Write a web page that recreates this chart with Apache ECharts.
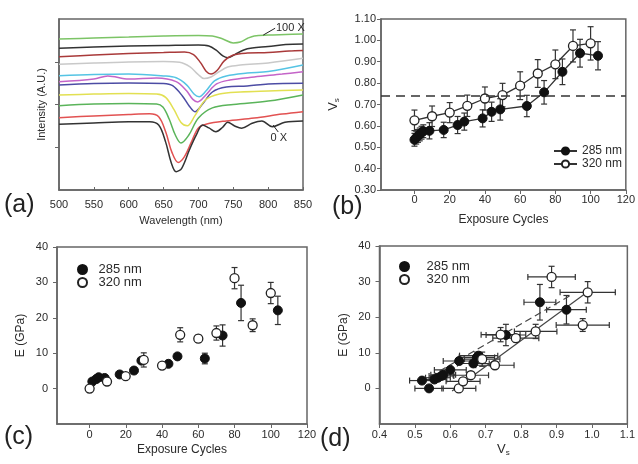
<!DOCTYPE html>
<html><head><meta charset="utf-8">
<script src="https://cdn.jsdelivr.net/npm/echarts@6/dist/echarts.min.js"></script>
<style>html,body{margin:0;padding:0;background:#fff}#c{width:638px;height:464px}</style>
</head><body><div id="c"></div>
<script>
// ---------- Panel (a): spectra, [wavelength (nm), intensity (a.u.)] ----------
const spec100X = [[500,88.3],[550,88.9],[600,89.5],[650,90.1],[700,90.4],[720,90.1],[735,88.3],[750,86.0],[760,86.5],[770,88.6],[780,90.1],[800,90.6],[825,90.9],[850,91.2]];
const spec90X  = [[500,82.9],[550,83.6],[600,84.2],[650,84.5],[700,84.8],[715,84.2],[725,81.9],[735,78.4],[742,77.4],[752,79.2],[765,81.9],[777,83.0],[800,83.9],[825,85.1],[850,85.4]];
const spec80X  = [[500,77.9],[550,78.9],[600,79.8],[650,80.4],[680,80.7],[693,79.2],[703,74.5],[711,69.5],[718,67.8],[727,70.0],[737,75.5],[750,78.9],[770,80.1],[800,80.4],[830,81.3],[850,81.6]];
const spec70X  = [[500,73.5],[550,74.3],[600,74.9],[650,75.1],[673,74.7],[688,72.0],[699,67.8],[708,65.2],[718,66.1],[729,69.0],[742,71.9],[760,73.1],[800,74.3],[850,77.0]];
const spec60X  = [[500,66.8],[550,67.5],[600,67.8],[650,66.7],[668,65.6],[683,61.5],[694,56.0],[701,54.6],[711,58.0],[723,63.8],[740,66.7],[770,68.4],[800,69.3],[850,73.1]];
const spec50X  = [[500,63.3],[550,64.9],[570,66.7],[600,64.9],[640,65.5],[668,63.4],[683,58.0],[692,53.0],[699,51.5],[710,55.3],[726,62.0],[745,64.3],[780,66.1],[820,67.8],[850,69.2]];
const spec40X  = [[500,61.4],[550,62.3],[600,62.6],[650,62.3],[663,61.0],[677,55.0],[687,49.0],[695,45.8],[705,49.8],[720,57.3],[740,60.2],[770,60.8],[800,62.0],[850,62.4]];
const spec30X  = [[500,55.6],[550,56.1],[600,56.4],[640,56.1],[653,54.2],[665,47.0],[675,39.5],[684,37.6],[695,43.5],[710,52.6],[730,56.1],[760,57.3],[800,57.9],[850,58.5]];
const spec20X  = [[500,49.3],[550,50.3],[600,50.6],[640,50.3],[649,48.5],[658,41.5],[667,32.0],[675,27.5],[686,32.0],[700,42.1],[720,48.0],[750,50.0],[800,52.0],[850,55.6]];
const spec10X  = [[500,42.3],[550,43.3],[600,44.2],[630,44.6],[643,42.8],[653,34.0],[662,22.0],[671,16.1],[680,19.5],[690,28.1],[700,36.3],[712,38.6],[740,40.4],[780,42.1],[820,44.4],[850,45.8]];
const spec0X   = [[500,38.4],[550,39.2],[600,39.9],[630,39.9],[643,38.0],[653,28.0],[661,16.0],[668,10.7],[676,12.7],[687,23.4],[697,32.2],[706,38.0],[715,36.3],[725,34.1],[735,36.8],[742,39.6],[752,37.4],[762,36.1],[777,39.0],[791,40.4],[806,37.0],[824,39.6],[850,40.4]];
const specColors = ['#7cc466','#333333','#a93a3a','#c9c9c9','#55c4e4','#c464c8','#4c4ca4','#e2e052','#5ab45a','#e25252','#333333'];
const wavelengthTicks = [500,550,600,650,700,750,800,850];

// ---------- Panel (b): Vs vs exposure cycles ----------
const b285X = [0, 1, 2, 3, 4, 5, 8.5, 16.6, 24.5, 28.3, 38.7, 43.8, 48.7, 63.8, 73.6, 84, 94, 104.2];
const b285Y = [0.535, 0.545, 0.553, 0.560, 0.568, 0.575, 0.577, 0.581, 0.604, 0.620, 0.635, 0.666, 0.677, 0.693, 0.757, 0.853, 0.940, 0.928];
const b285Err = [0.03, 0.03, 0.03, 0.03, 0.03, 0.03, 0.038, 0.036, 0.04, 0.04, 0.04, 0.045, 0.05, 0.05, 0.055, 0.06, 0.065, 0.066];
const b320X = [0, 10, 20, 30, 40, 50, 60, 70, 80, 90, 100];
const b320Y = [0.626, 0.645, 0.662, 0.694, 0.728, 0.744, 0.788, 0.845, 0.888, 0.974, 0.986];
const b320Err = [0.048, 0.048, 0.047, 0.05, 0.054, 0.055, 0.065, 0.065, 0.067, 0.075, 0.078];
const vsThreshold = 0.74;
const cycleTicks = [0, 20, 40, 60, 80, 100, 120];
const vsTicksB = [0.3, 0.4, 0.5, 0.6, 0.7, 0.8, 0.9, 1.0, 1.1];

// ---------- Panel (c): E vs exposure cycles ----------
const c285X = [1.5, 3.7, 5, 8.3, 16.6, 24.5, 28.6, 43.5, 48.5, 63.6, 73.4, 83.6, 103.9];
const c285Y = [2.0, 2.7, 3.2, 3.0, 4.0, 5.1, 7.9, 7.0, 9.1, 8.5, 15.0, 24.2, 22.1];
const c285Err = [0.5, 0.5, 0.5, 0.5, 0.5, 0.5, 0.8, 0.7, 0.8, 1.5, 3.0, 5.0, 4.0];
const c320X = [0, 9.6, 19.9, 29.9, 40, 50, 60, 70, 80, 90, 100];
const c320Y = [0, 2.0, 3.5, 8.1, 6.5, 15.2, 14.1, 15.7, 31.2, 17.9, 27.0];
const c320Err = [0.3, 0.5, 0.5, 2.0, 0.5, 2.0, 1.0, 2.0, 3.0, 1.8, 3.0];
const eTicks = [0, 10, 20, 30, 40];

// ---------- Panel (d): E vs Vs ----------
const d285V = [0.54, 0.52, 0.555, 0.565, 0.575, 0.58, 0.60, 0.625, 0.665, 0.675, 0.68, 0.757, 0.853, 0.928];
const d285E = [0, 2.2, 2.5, 3.0, 3.5, 3.8, 5.2, 7.7, 7.0, 8.7, 9.2, 15.0, 24.2, 22.1];
const d285VErr = [0.04, 0.035, 0.035, 0.035, 0.035, 0.035, 0.045, 0.045, 0.045, 0.05, 0.054, 0.056, 0.045, 0.056];
const d285EErr = [0.5, 0.5, 0.5, 0.5, 0.5, 0.5, 0.5, 0.8, 0.7, 1.5, 0.8, 3, 5, 4];
const d320V = [0.624, 0.636, 0.658, 0.69, 0.726, 0.742, 0.785, 0.841, 0.886, 0.974, 0.988];
const d320E = [0, 2.0, 3.7, 8.2, 6.5, 15.1, 14.1, 16.0, 31.3, 17.8, 27.0];
const d320VErr = [0.048, 0.048, 0.05, 0.05, 0.054, 0.055, 0.065, 0.06, 0.067, 0.075, 0.078];
const d320EErr = [0.3, 0.5, 0.5, 2.0, 0.5, 2.0, 1.0, 2.0, 3.0, 1.8, 3.0];
const fitSolid = [[0.605, -0.7], [0.993, 27.5]];
const fitDashed = [[0.516, 1.8], [0.937, 26.0]];
const vsTicksD = [0.4, 0.5, 0.6, 0.7, 0.8, 0.9, 1.0, 1.1];

// ---------- helpers ----------
const FONT = "'Liberation Sans', Arial, sans-serif";
const TXT = '#2b2b2b';
const BOX = '#666';
const zip = (...a) => a[0].map((_, i) => a.map(arr => arr[i]));

function errRender(params, api) {
  const x = api.value(0), y = api.value(1), ex = api.value(2), ey = api.value(3);
  const st = { stroke: '#333', lineWidth: 1.2 };
  const cap = 3;
  const ch = [];
  if (ey > 0) {
    const p1 = api.coord([x, y + ey]), p2 = api.coord([x, y - ey]);
    ch.push({ type: 'line', shape: { x1: p1[0], y1: p1[1], x2: p2[0], y2: p2[1] }, style: st });
    ch.push({ type: 'line', shape: { x1: p1[0] - cap, y1: p1[1], x2: p1[0] + cap, y2: p1[1] }, style: st });
    ch.push({ type: 'line', shape: { x1: p2[0] - cap, y1: p2[1], x2: p2[0] + cap, y2: p2[1] }, style: st });
  }
  if (ex > 0) {
    const p1 = api.coord([x - ex, y]), p2 = api.coord([x + ex, y]);
    ch.push({ type: 'line', shape: { x1: p1[0], y1: p1[1], x2: p2[0], y2: p2[1] }, style: st });
    ch.push({ type: 'line', shape: { x1: p1[0], y1: p1[1] - cap, x2: p1[0], y2: p1[1] + cap }, style: st });
    ch.push({ type: 'line', shape: { x1: p2[0], y1: p2[1] - cap, x2: p2[0], y2: p2[1] + cap }, style: st });
  }
  return { type: 'group', children: ch };
}
function errSeries(idx, data) {
  return { type: 'custom', xAxisIndex: idx, yAxisIndex: idx, renderItem: errRender, data: data,
           encode: { x: 0, y: 1 }, z: 1, silent: true, clip: false };
}
const filled = { color: '#111', borderColor: '#111', borderWidth: 1, opacity: 1 };
const open = { color: '#ffffff', borderColor: '#222', borderWidth: 1.3, opacity: 1 };

function axisCommon(extra) {
  return Object.assign({
    type: 'value', splitLine: { show: false },
    axisLine: { show: true, onZero: false, lineStyle: { color: BOX, width: 1.5 } },
    axisTick: { show: true, length: 4, lineStyle: { color: BOX, width: 1 } },
    axisLabel: { color: TXT, fontFamily: FONT, fontSize: 11 },
    nameTextStyle: { color: TXT, fontFamily: FONT, fontSize: 12 },
    nameLocation: 'middle'
  }, extra);
}

const specs = [spec100X, spec90X, spec80X, spec70X, spec60X, spec50X, spec40X, spec30X, spec20X, spec10X, spec0X];
const series = [];
specs.forEach((s, i) => {
  const ser = { type: 'line', xAxisIndex: 0, yAxisIndex: 0, data: s, smooth: 0.35, showSymbol: false,
                lineStyle: { color: specColors[i], width: 1.5 }, silent: true, z: 2 };
  if (i === 0) {
    ser.markLine = { silent: true, symbol: 'none', lineStyle: { color: '#222', width: 1, type: 'solid' },
      label: { show: true, position: 'end', formatter: '100 X', color: TXT, fontFamily: FONT, fontSize: 11, distance: 1 },
      data: [[{ coord: [793, 90.6] }, { coord: [810, 94.6] }]] };
  }
  if (i === 10) {
    ser.markLine = { silent: true, symbol: 'none', lineStyle: { color: '#222', width: 1, type: 'solid' },
      label: { show: true, position: 'end', formatter: '0 X', color: TXT, fontFamily: FONT, fontSize: 11, distance: 1 },
      data: [[{ coord: [807, 38.0] }, { coord: [814.5, 33.9] }]] };
  }
  series.push(ser);
});

// (b)
series.push(errSeries(1, zip(b285X, b285Y, b285X.map(() => 0), b285Err)));
series.push(errSeries(1, zip(b320X, b320Y, b320X.map(() => 0), b320Err)));
series.push({ name: 'b285', type: 'line', xAxisIndex: 1, yAxisIndex: 1, data: zip(b285X, b285Y),
  symbol: 'circle', symbolSize: 9, itemStyle: filled, lineStyle: { color: '#333', width: 1.3 }, z: 3,
  markLine: { silent: true, symbol: 'none', lineStyle: { color: '#333', width: 1.5, type: [9, 6] },
    label: { show: false }, data: [{ yAxis: vsThreshold }] } });
series.push({ name: 'b320', type: 'line', xAxisIndex: 1, yAxisIndex: 1, data: zip(b320X, b320Y),
  symbol: 'circle', symbolSize: 9, itemStyle: open, lineStyle: { color: '#333', width: 1.3 }, z: 3 });

// (c)
series.push(errSeries(2, zip(c285X, c285Y, c285X.map(() => 0), c285Err)));
series.push(errSeries(2, zip(c320X, c320Y, c320X.map(() => 0), c320Err)));
series.push({ name: 'c285', type: 'scatter', xAxisIndex: 2, yAxisIndex: 2, data: zip(c285X, c285Y),
  symbol: 'circle', symbolSize: 9, itemStyle: filled, z: 3 });
series.push({ name: 'c320', type: 'scatter', xAxisIndex: 2, yAxisIndex: 2, data: zip(c320X, c320Y),
  symbol: 'circle', symbolSize: 9, itemStyle: open, z: 3 });

// (d)
series.push({ type: 'line', xAxisIndex: 3, yAxisIndex: 3, data: fitSolid, showSymbol: false, silent: true,
  lineStyle: { color: '#444', width: 1.2 }, z: 2 });
series.push({ type: 'line', xAxisIndex: 3, yAxisIndex: 3, data: fitDashed, showSymbol: false, silent: true,
  lineStyle: { color: '#444', width: 1.2, type: [7, 4] }, z: 2 });
series.push(errSeries(3, zip(d285V, d285E, d285VErr, d285EErr)));
series.push(errSeries(3, zip(d320V, d320E, d320VErr, d320EErr)));
series.push({ name: 'd285', type: 'scatter', xAxisIndex: 3, yAxisIndex: 3, data: zip(d285V, d285E),
  symbol: 'circle', symbolSize: 9, itemStyle: filled, z: 3 });
series.push({ name: 'd320', type: 'scatter', xAxisIndex: 3, yAxisIndex: 3, data: zip(d320V, d320E),
  symbol: 'circle', symbolSize: 9, itemStyle: open, z: 3 });

const gridStyle = { show: true, borderColor: BOX, borderWidth: 1.5, backgroundColor: 'transparent' };
const legText = (fs) => ({ color: TXT, fontFamily: FONT, fontSize: fs });
const legFmt = n => n.slice(1) + ' nm';

const option = {
  animation: false,
  backgroundColor: '#fff',
  grid: [
    Object.assign({ left: 59, top: 19, width: 244, height: 171 }, gridStyle),
    Object.assign({ left: 381, top: 19, width: 245, height: 171 }, gridStyle),
    Object.assign({ left: 57, top: 247, width: 250, height: 177 }, gridStyle),
    Object.assign({ left: 379.5, top: 246, width: 250, height: 178 }, gridStyle)
  ],
  xAxis: [
    axisCommon({ gridIndex: 0, min: 500, max: 850, name: 'Wavelength (nm)', nameGap: 25,
      axisTick: { show: true, inside: true, length: 3, lineStyle: { color: BOX }, customValues: wavelengthTicks },
      axisLabel: { color: TXT, fontFamily: FONT, fontSize: 11, margin: 9, customValues: wavelengthTicks },
      nameTextStyle: { color: TXT, fontFamily: FONT, fontSize: 11 } }),
    axisCommon({ gridIndex: 1, min: -19, max: 120, name: 'Exposure Cycles', nameGap: 24,
      axisTick: { show: true, length: 4, lineStyle: { color: BOX }, customValues: cycleTicks },
      axisLabel: { color: TXT, fontFamily: FONT, fontSize: 11, margin: 4, customValues: cycleTicks } }),
    axisCommon({ gridIndex: 2, min: -18, max: 120, name: 'Exposure Cycles', nameGap: 20,
      axisTick: { show: true, length: 4, lineStyle: { color: BOX }, customValues: cycleTicks },
      axisLabel: { color: TXT, fontFamily: FONT, fontSize: 11, margin: 5, customValues: cycleTicks } }),
    axisCommon({ gridIndex: 3, min: 0.4, max: 1.1, name: 'V{s|s}', nameGap: 18,
      nameTextStyle: { color: TXT, fontFamily: FONT, fontSize: 13, rich: { s: { fontSize: 8, fontFamily: FONT, color: TXT, padding: [7, 0, 0, 0] } } },
      axisTick: { show: true, length: 4, lineStyle: { color: BOX }, customValues: vsTicksD },
      axisLabel: { color: TXT, fontFamily: FONT, fontSize: 11, margin: 5, customValues: vsTicksD, formatter: v => v.toFixed(1) } })
  ],
  yAxis: [
    axisCommon({ gridIndex: 0, min: 0, max: 100, name: 'Intensity (A.U.)', nameGap: 12,
      axisTick: { show: true, length: 4, lineStyle: { color: BOX }, customValues: [25, 50, 75] },
      axisLabel: { show: false }, nameTextStyle: { color: TXT, fontFamily: FONT, fontSize: 11 } }),
    axisCommon({ gridIndex: 1, min: 0.3, max: 1.1, name: 'V{s|s}', nameGap: 40,
      nameTextStyle: { color: TXT, fontFamily: FONT, fontSize: 13, rich: { s: { fontSize: 8, fontFamily: FONT, color: TXT, padding: [7, 0, 0, 0] } } },
      axisTick: { show: true, length: 4, lineStyle: { color: BOX }, customValues: vsTicksB },
      axisLabel: { color: TXT, fontFamily: FONT, fontSize: 11, margin: 5, customValues: vsTicksB, formatter: v => v.toFixed(2) } }),
    axisCommon({ gridIndex: 2, min: -10, max: 40, name: 'E (GPa)', nameGap: 30,
      axisTick: { show: true, length: 4, lineStyle: { color: BOX }, customValues: eTicks },
      axisLabel: { color: TXT, fontFamily: FONT, fontSize: 11, margin: 9, customValues: eTicks } }),
    axisCommon({ gridIndex: 3, min: -10, max: 40, name: 'E (GPa)', nameGap: 30,
      axisTick: { show: true, length: 4, lineStyle: { color: BOX }, customValues: eTicks },
      axisLabel: { color: TXT, fontFamily: FONT, fontSize: 11, margin: 9, customValues: eTicks } })
  ],
  legend: [
    { data: ['b285', 'b320'], formatter: legFmt, orient: 'vertical', left: 548, top: 140,
      itemWidth: 23, itemHeight: 9, itemGap: 1, textStyle: legText(12), selectedMode: false },
    { data: ['c285', 'c320'], formatter: legFmt, orient: 'vertical', left: 72, top: 258,
      itemWidth: 22, itemHeight: 9, itemGap: 0, textStyle: legText(13), selectedMode: false },
    { data: ['d285', 'd320'], formatter: legFmt, orient: 'vertical', left: 394, top: 255,
      itemWidth: 22, itemHeight: 9, itemGap: 0, textStyle: Object.assign(legText(13), { padding: [0, 0, 0, 6] }), selectedMode: false }
  ],
  graphic: [
    { type: 'text', left: 4, top: 193, style: { text: '(a)', font: "25px 'Liberation Sans', Arial, sans-serif", fill: '#222' } },
    { type: 'text', left: 332, top: 195, style: { text: '(b)', font: "25px 'Liberation Sans', Arial, sans-serif", fill: '#222' } },
    { type: 'text', left: 4, top: 425, style: { text: '(c)', font: "25px 'Liberation Sans', Arial, sans-serif", fill: '#222' } },
    { type: 'text', left: 320, top: 427, style: { text: '(d)', font: "25px 'Liberation Sans', Arial, sans-serif", fill: '#222' } }
  ],
  series: series
};

const chart = echarts.init(document.getElementById('c'), null, { renderer: 'canvas' });
chart.setOption(option);
</script>
</body></html>
